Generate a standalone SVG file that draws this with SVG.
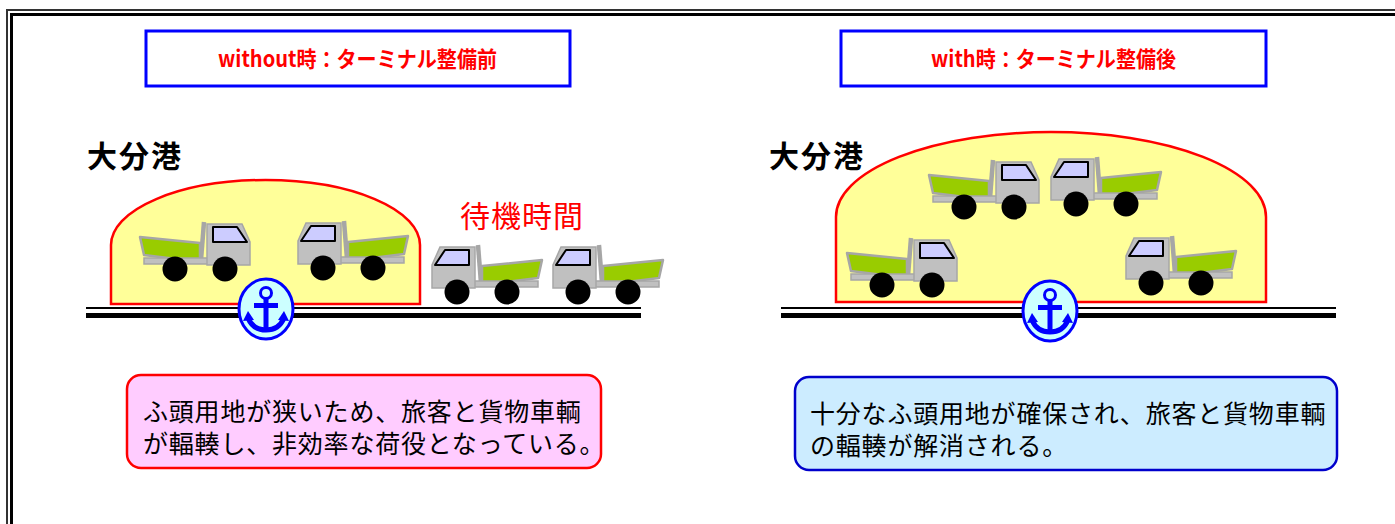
<svg xmlns="http://www.w3.org/2000/svg" xmlns:xlink="http://www.w3.org/1999/xlink" width="1395" height="524" viewBox="0 0 1395 524">
  <style>
    .title { font-family: "Noto Sans CJK JP", "Noto Sans", sans-serif; font-weight: bold; font-size: 22px; fill: #FF0000; }
    .port { font-family: "Noto Sans CJK JP", sans-serif; font-weight: bold; font-size: 30px; fill: #000; letter-spacing: 2px; }
    .wait { font-family: "Noto Sans CJK JP", sans-serif; font-size: 30px; fill: #FF0000; letter-spacing: 1px; }
    .note { font-family: "Noto Sans CJK JP", sans-serif; font-size: 25px; fill: #000; letter-spacing: 0.8px; }
    .titlebox { fill: #fff; stroke: #0000FF; stroke-width: 3; }
    .dome { fill: #FFFF99; stroke: #FF0000; stroke-width: 2.5; }
    .body { fill: #C0C0C0; stroke: #A6A6A6; stroke-width: 1.5; }
    .bed { fill: #99CC00; stroke: #A6A6A6; stroke-width: 2.5; stroke-linejoin: round; }
    .glass { fill: #CCCCFF; stroke: #000; stroke-width: 2; stroke-linejoin: round; }
    .wheel { fill: #000; }
    .quay-thin { stroke: #000; stroke-width: 2; }
    .quay-thick { stroke: #000; stroke-width: 5; }
    .badge { fill: #CCFFFF; stroke: #0000FF; stroke-width: 3; }
    .anchor-line { fill: none; stroke: #0000FF; stroke-width: 5; }
  </style>
  <defs>
    <!-- dump truck, cab on the left; mirrored with scale(-1,1) for the other direction -->
    <g id="truck">
      <line x1="48" y1="0" x2="51" y2="38" stroke="#A6A6A6" stroke-width="4.5"/>
      <polygon class="bed" points="52,21 112,15 108,33 52,40"/>
      <rect class="body" x="44" y="36" width="64" height="6"/>
      <polygon class="body" points="10,2 45,2 45,43 2,43 2,20"/>
      <polygon class="glass" points="5,20 15,5 39,5 39,20"/>
      <circle class="wheel" cx="27" cy="47" r="12.5"/>
      <circle class="wheel" cx="77" cy="47" r="12.5"/>
    </g>
    <!-- anchor badge centred on 0,0 -->
    <g id="anchor">
      <ellipse class="badge" cx="0" cy="0" rx="27" ry="30"/>
      <circle cx="0" cy="-16" r="5.5" fill="none" stroke="#0000FF" stroke-width="3"/>
      <rect x="-12" y="-6" width="24" height="5" fill="#0000FF"/>
      <rect x="-2.5" y="-11" width="5" height="31" fill="#0000FF"/>
      <path class="anchor-line" d="M -18 9 Q -13 21 0 21 Q 13 21 18 9"/>
      <polygon points="-23,12 -18,2 -12,11" fill="#0000FF"/>
      <polygon points="23,12 18,2 12,11" fill="#0000FF"/>
    </g>
  </defs>

  <rect width="1395" height="524" fill="#fff"/>

  <!-- double outer frame -->
  <path d="M 7 524 V 10 H 1395" fill="none" stroke="#333" stroke-width="2"/>
  <path d="M 11.5 524 V 14.5 H 1395" fill="none" stroke="#000" stroke-width="3"/>

  <!-- before: narrow terminal -->
  <g id="title-without">
    <rect class="titlebox" x="146" y="31" width="424" height="55"/>
    <text class="title" x="218" y="67" textLength="279" lengthAdjust="spacingAndGlyphs">without時：ターミナル整備前</text>
  </g>
  <g id="port-without">
    <text class="port" x="87" y="167">大分港</text>
    <path class="dome" d="M 111 304 V 245 A 154.5 65 0 0 1 420 245 V 304 Z"/>
    <line class="quay-thin" x1="86" y1="308" x2="641" y2="308"/>
    <line class="quay-thick" x1="86" y1="315.5" x2="641" y2="315.5"/>
    <use xlink:href="#truck" transform="translate(252,222) scale(-1,1)"/>
    <use xlink:href="#truck" transform="translate(296,221)"/>
    <use xlink:href="#truck" transform="translate(430,245)"/>
    <use xlink:href="#truck" transform="translate(551,245)"/>
    <use xlink:href="#anchor" transform="translate(266,309)"/>
    <text class="wait" x="460" y="227">待機時間</text>
  </g>
  <g id="note-without">
    <rect x="127" y="375" width="474" height="93" rx="14" fill="#FFCCFF" stroke="#FF0000" stroke-width="2.5"/>
    <text class="note" x="143" y="421">ふ頭用地が狭いため、旅客と貨物車輌</text>
    <text class="note" x="143" y="453">が輻輳し、非効率な荷役となっている。</text>
  </g>

  <!-- after: enlarged terminal -->
  <g id="title-with">
    <rect class="titlebox" x="841" y="31" width="425" height="55"/>
    <text class="title" x="931" y="67" textLength="245" lengthAdjust="spacingAndGlyphs">with時：ターミナル整備後</text>
  </g>
  <g id="port-with">
    <text class="port" x="769" y="167">大分港</text>
    <path class="dome" d="M 836 302 V 217 A 215 85 0 0 1 1266 217 V 302 Z"/>
    <line class="quay-thin" x1="781" y1="308" x2="1336" y2="308"/>
    <line class="quay-thick" x1="781" y1="315.5" x2="1336" y2="315.5"/>
    <use xlink:href="#truck" transform="translate(1041,160) scale(-1,1)"/>
    <use xlink:href="#truck" transform="translate(1049,157)"/>
    <use xlink:href="#truck" transform="translate(959,238) scale(-1,1)"/>
    <use xlink:href="#truck" transform="translate(1124,236)"/>
    <use xlink:href="#anchor" transform="translate(1050,311)"/>
  </g>
  <g id="note-with">
    <rect x="795" y="377" width="542" height="93" rx="14" fill="#CCECFF" stroke="#0000CC" stroke-width="2.5"/>
    <text class="note" x="810" y="423">十分なふ頭用地が確保され、旅客と貨物車輌</text>
    <text class="note" x="810" y="455">の輻輳が解消される。</text>
  </g>
</svg>
